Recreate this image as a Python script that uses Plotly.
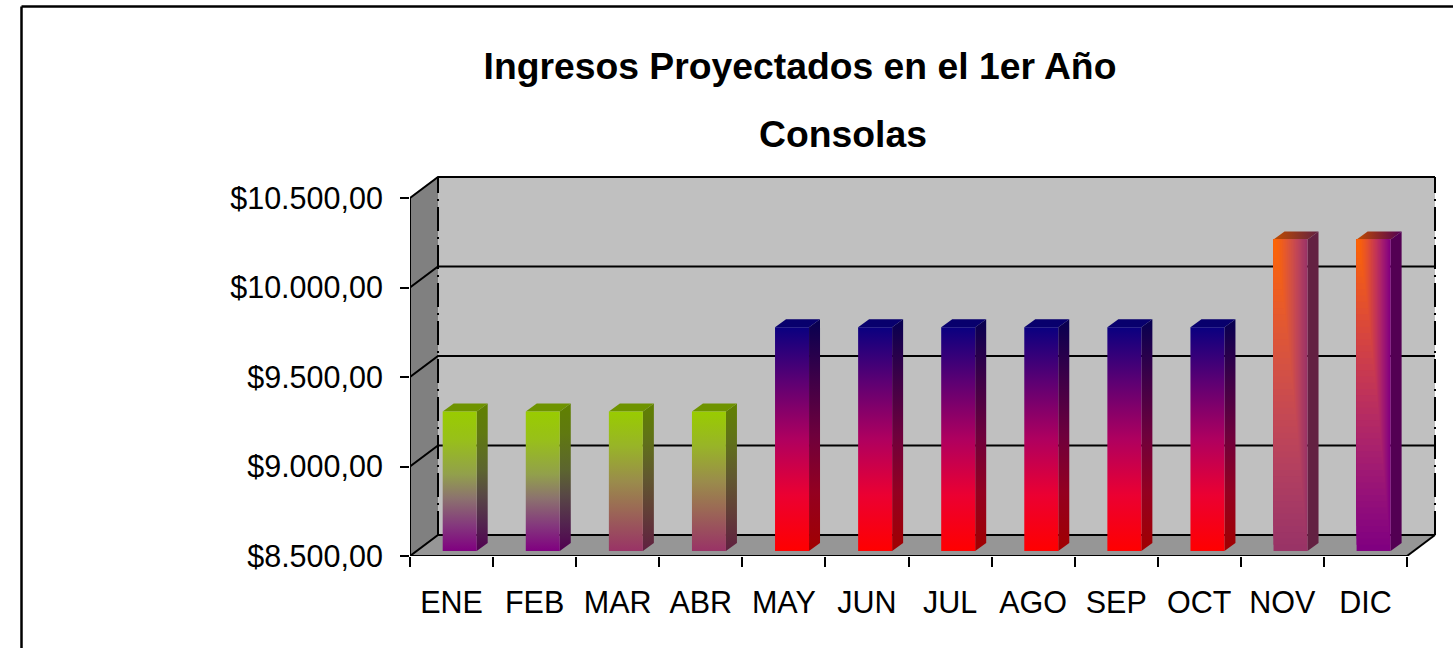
import plotly.graph_objects as go

# ---- data ----
categories = ["ENE", "FEB", "MAR", "ABR", "MAY", "JUN", "JUL", "AGO", "SEP", "OCT", "NOV", "DIC"]
values = [9280, 9280, 9280, 9280, 9750, 9750, 9750, 9750, 9750, 9750, 10240, 10240]
y_ticks = [8500, 9000, 9500, 10000, 10500]
y_labels = ["$8.500,00", "$9.000,00", "$9.500,00", "$10.000,00", "$10.500,00"]
title_line1 = "Ingresos Proyectados en el 1er Año"
title_line2 = "Consolas"

# ---- colours ----
GREEN_PURPLE = [(0, (153, 204, 0)), (0.2, (152, 192, 25)), (0.45, (146, 160, 75)), (0.62, (140, 115, 110)), (0.82, (132, 55, 125)), (1, (128, 0, 128))]
GREEN_PLUM = [(0, (153, 204, 0)), (0.25, (152, 180, 40)), (0.5, (154, 140, 75)), (0.7, (155, 105, 85)), (1, (153, 51, 102))]
NAVY_RED = [(0, (10, 0, 128)), (0.25, (95, 0, 115)), (0.5, (175, 0, 95)), (0.75, (235, 0, 50)), (1, (255, 0, 0))]
ORANGE = (255, 102, 0)
PLUM = (153, 51, 102)
PURPLE = (128, 0, 128)
styles = [GREEN_PURPLE, GREEN_PURPLE, GREEN_PLUM, GREEN_PLUM] + [NAVY_RED] * 6 + [PLUM, PURPLE]

# ---- geometry (pixels on the page -> axis units) ----
W, H = 1453, 648
L, R, T, B = 410, 1440, 170, 556
PX_X = 12 / 997
PX_Y = 2000 / 358
DX, DY = 28 * PX_X, 21 * PX_Y        # depth of the walls
BDX, BDY = 11 * PX_X, 8 * PX_Y       # depth of a bar
BAR_X, BAR_W, LIFT = 32.7 * PX_X, 34 * PX_X, 5 * PX_Y
Y0, Y1 = y_ticks[0], y_ticks[-1]
N = len(categories)


def css(c):
    return "rgb(%d,%d,%d)" % tuple(round(v) for v in c)


def dark(c, f):
    return tuple(v * f for v in c)


def scale(stops, f=1.0):
    # fill gradients run bottom to top, so the stops are reversed
    return [[1 - t, css(dark(c, f))] for t, c in stops[::-1]]


def mix(a, b, t):
    bump = 100 * t * (1 - t)
    return (a[0] + (b[0] - a[0]) * t, a[1] + (b[1] - a[1]) * t, a[2] + (b[2] - a[2]) * t + bump)


def poly(xs, ys, **kw):
    return go.Scatter(x=xs + xs[:1], y=ys + ys[:1], mode="lines", fill="toself",
                      line=dict(width=0), hoverinfo="skip", showlegend=False, **kw)


def line(xs, ys, dash="solid", width=2):
    return go.Scatter(x=xs, y=ys, mode="lines", line=dict(color="black", width=width, dash=dash),
                      hoverinfo="skip", showlegend=False)


fig = go.Figure()

# walls and floor
fig.add_trace(poly([0, DX, DX, 0], [Y0, Y0 + DY, Y1 + DY, Y1], fillcolor="#808080"))
fig.add_trace(poly([DX, N + DX, N + DX, DX], [Y0 + DY, Y0 + DY, Y1 + DY, Y1 + DY], fillcolor="#C0C0C0"))
fig.add_trace(poly([0, N, N + DX, DX], [Y0, Y0, Y0 + DY, Y0 + DY], fillcolor="#969696"))

# grid lines around the walls
for t in y_ticks:
    fig.add_trace(line([0, DX, N + DX], [t, t + DY, t + DY]))
DASH = "24px,6px,2px,6px"
fig.add_trace(line([DX, DX], [Y0 + DY, Y1 + DY], dash=DASH))
fig.add_trace(line([N + DX, N + DX], [Y0 + DY, Y1 + DY], dash=DASH))
fig.add_trace(line([N, N + DX], [Y0, Y0 + DY]))
fig.add_trace(line([0, 0], [Y0, Y1]))
fig.add_trace(line([0, N], [Y0, Y0]))

# bars
STEPS = 50
for i, (val, st) in enumerate(zip(values, styles)):
    x0 = i + BAR_X
    x1 = x0 + BAR_W
    yb = Y0 + LIFT
    yt = val + LIFT
    if isinstance(st, list):
        fig.add_trace(poly([x1, x1 + BDX, x1 + BDX, x1], [yb, yb + BDY, yt + BDY, yt],
                           fillgradient=dict(type="vertical", colorscale=scale(st, 0.63))))
        top = 0.85 if st is NAVY_RED else 0.72
        fig.add_trace(poly([x0, x1, x1 + BDX, x0 + BDX], [yt, yt, yt + BDY, yt + BDY],
                           fillcolor=css(dark(st[0][1], top))))
        fig.add_trace(poly([x0, x1, x1, x0], [yb, yb, yt, yt],
                           fillgradient=dict(type="vertical", colorscale=scale(st))))
    else:
        # corner gradient: nested rectangles shrinking toward the top-left corner
        fig.add_trace(poly([x1, x1 + BDX, x1 + BDX, x1], [yb, yb + BDY, yt + BDY, yt], fillcolor=css(dark(st, 0.65))))
        fig.add_trace(poly([x0, x1, x1 + BDX, x0 + BDX], [yt, yt, yt + BDY, yt + BDY],
                           fillgradient=dict(type="horizontal", colorscale=[[0, css(dark(ORANGE, 0.75))], [1, css(dark(st, 0.65))]])))
        for k in range(STEPS, 0, -1):
            t = k / STEPS
            c = mix(ORANGE, st, t)
            xr = x0 + BAR_W * t ** 0.75
            ybt = yt - (yt - yb) * t
            fig.add_trace(poly([x0, xr, xr, x0], [ybt, ybt, yt, yt], fillcolor=css(c)))


def pxx(p):
    return (p - L) / (R - L)


def pxy(p):
    return (B - p) / (B - T)


# outer frame of the chart
frame = dict(type="line", xref="paper", yref="paper", line=dict(color="black", width=2.5))
shapes = [dict(frame, x0=pxx(21.5), x1=pxx(21.5), y0=pxy(6.5), y1=pxy(660)),
          dict(frame, x0=pxx(21.5), x1=pxx(1470), y0=pxy(6.5), y1=pxy(6.5))]

fig.update_layout(
    width=W, height=H, autosize=False,
    margin=dict(l=L, r=W - R, t=T, b=H - B, pad=0),
    paper_bgcolor="white", plot_bgcolor="white", showlegend=False,
    font=dict(family="Liberation Sans, Arial, sans-serif", color="black", size=30.5),
    title=dict(text="<b>%s</b>" % title_line1, x=800 / W, xanchor="center", xref="container",
               y=1 - 66 / H, yanchor="middle", yref="container", font=dict(size=37.3)),
    annotations=[dict(text="<b>%s</b>" % title_line2, xref="paper", yref="paper", x=pxx(843), y=pxy(134),
                      xanchor="center", yanchor="middle", showarrow=False, font=dict(size=37.3))],
    shapes=shapes,
    xaxis=dict(range=[0, (R - L) * PX_X], showgrid=False, zeroline=False, showline=False,
               tickmode="array", tickvals=[i + 0.5 for i in range(N)], ticktext=categories,
               ticks="", ticklabelstandoff=25,
               minor=dict(tickmode="array", tickvals=list(range(N + 1)), ticks="outside", ticklen=10,
                          tickwidth=2, tickcolor="black", showgrid=False)),
    yaxis=dict(range=[Y0, Y0 + (B - T) * PX_Y], showgrid=False, zeroline=False, showline=False,
               tickmode="array", tickvals=y_ticks, ticktext=y_labels,
               ticks="outside", ticklen=9, tickwidth=2, tickcolor="black", ticklabelstandoff=11),
)

fig.write_html("out.html", config={"displayModeBar": False},
               post_script="document.body.style.margin='0';document.documentElement.style.overflow='hidden';")
